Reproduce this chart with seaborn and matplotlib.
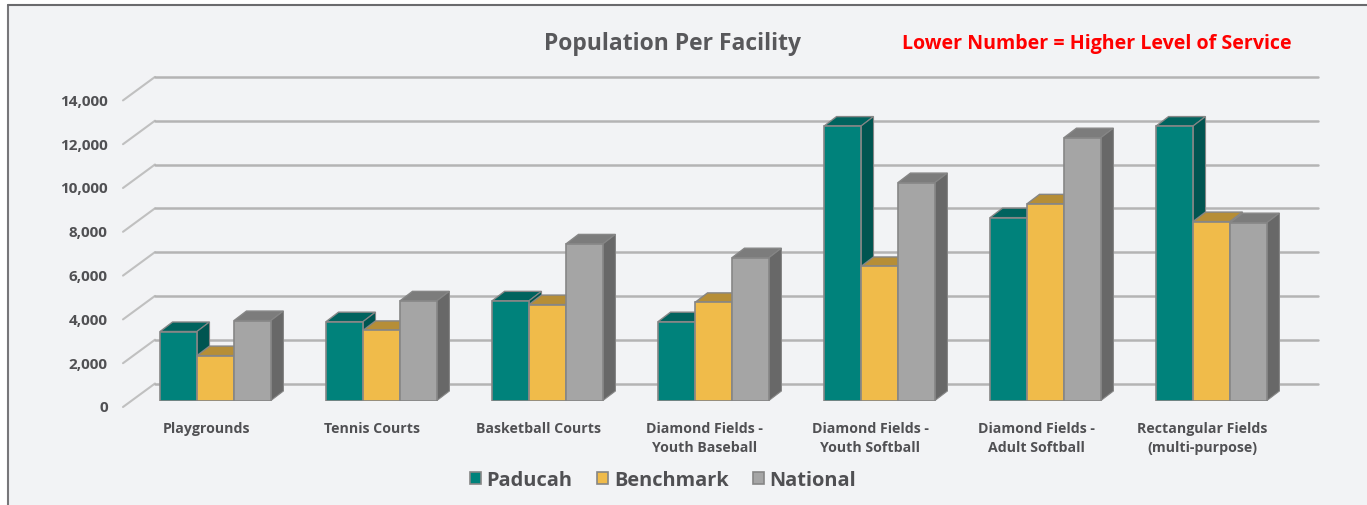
import matplotlib
matplotlib.use("Agg")
import matplotlib.pyplot as plt
from matplotlib.patches import Polygon, Rectangle
from matplotlib.lines import Line2D
from matplotlib.transforms import Affine2D
import pandas as pd
import seaborn as sns

categories = ["Playgrounds", "Tennis Courts", "Basketball Courts",
              "Diamond Fields -\nYouth Baseball", "Diamond Fields -\nYouth Softball",
              "Diamond Fields -\nAdult Softball", "Rectangular Fields\n(multi-purpose)"]
paducah = [3150, 3600, 4550, 3600, 12530, 8350, 12530]
benchmark = [2050, 3200, 4380, 4480, 6120, 8980, 8170]
national = [3650, 4550, 7150, 6520, 9950, 12000, 8120]
series_names = ["Paducah", "Benchmark", "National"]
y_ticks = [0, 2000, 4000, 6000, 8000, 10000, 12000, 14000]

front_colors = ["#00827B", "#F0BB4A", "#A5A5A5"]
top_colors = ["#00635E", "#B68E37", "#7C7C7C"]
side_colors = ["#005551", "#8F7030", "#686868"]
BG = "#F2F3F5"
TXT = "#505053"
FONT = "Open Sans"

W, H = 1367, 506
sns.set_theme(style="white")
plt.rcParams["font.family"] = [FONT, "DejaVu Sans"]
fig = plt.figure(figsize=(W / 100, H / 100), dpi=100, facecolor="white")

# panel
fig.add_artist(Rectangle((8 / W, 0), 1.0, 1 - 6 / H, transform=fig.transFigure,
                         facecolor=BG, edgecolor="none", zorder=-5))
fig.add_artist(Line2D([8 / W, 8 / W], [0, 1 - 6 / H], color="#77777A", lw=1.5, transform=fig.transFigure))
fig.add_artist(Line2D([8 / W, 1], [1 - 6 / H, 1 - 6 / H], color="#6A6A6D", lw=1.5, transform=fig.transFigure))

# axes: plane of the bar fronts
GROUP = 166.0
LEFT = 215.5 - GROUP / 2
BOTTOM = 401.5
PX_2000 = 43.8
AX_H = 7 * PX_2000
ax = fig.add_axes([LEFT / W, (H - BOTTOM) / H, 7 * GROUP / W, AX_H / H])
ax.patch.set_alpha(0)

df = pd.DataFrame({
    "category": categories * 3,
    "series": sum([[n] * len(categories) for n in series_names], []),
    "value": paducah + benchmark + national,
})
sns.barplot(data=df, x="category", y="value", hue="series", order=categories,
            hue_order=series_names, palette=front_colors, width=0.668, gap=0,
            saturation=1, errorbar=None, ax=ax, edgecolor="#868686", linewidth=1.2)

ax.set_xlim(-0.5, 6.5)
ax.set_ylim(0, 14000)
ax.set_xlabel("")
ax.set_ylabel("")
sns.despine(ax=ax, left=True, bottom=True)
ax.set_yticks(y_ticks)
ax.set_yticklabels([f"{v:,}" for v in y_ticks], fontsize=11, fontweight="bold", color=TXT)
ax.tick_params(axis="both", length=0)

# px -> data
ux = 1 / GROUP
uy = 2000 / PX_2000

# walls and gridlines
grid_c = "#B4B4B4"
for v in y_ticks:
    ax.plot([(123 - LEFT) * ux - 0.5, (155 - LEFT) * ux - 0.5],
            [v + (BOTTOM - 408) * uy, v + (BOTTOM - 384.5) * uy],
            color="#C0C0C0", lw=1.5, clip_on=False, zorder=0.5)
    ax.plot([(155 - LEFT) * ux - 0.5, (1318 - LEFT) * ux - 0.5],
            [v + (BOTTOM - 384.5) * uy] * 2, color=grid_c, lw=1.8, clip_on=False, zorder=0.5)

# 3D faces derived from the bars that seaborn drew
dx, dy = 12.5 * ux, 9.5 * uy
for s, cont in enumerate(ax.containers):
    for i, r in enumerate(cont.patches):
        x0, w, h = r.get_x(), r.get_width(), r.get_height()
        base = i * 10 + s * 3 + 2
        r.set_zorder(base + 2)
        top = Polygon([(x0, h), (x0 + dx, h + dy), (x0 + w + dx, h + dy), (x0 + w, h)],
                      closed=True, facecolor=top_colors[s], edgecolor="#868686", lw=1.0,
                      clip_on=False, zorder=base)
        side = Polygon([(x0 + w, 0), (x0 + w + dx, dy), (x0 + w + dx, h + dy), (x0 + w, h)],
                       closed=True, facecolor=side_colors[s], edgecolor="#868686", lw=0.8,
                       clip_on=False, zorder=base + 1)
        ax.add_patch(side)
        ax.add_patch(top)

# tick labels
ax.set_xticks(range(len(categories)))
ax.set_xticklabels(categories, fontsize=10.2, fontweight="bold", color=TXT, linespacing=1.38)
for lab in ax.get_xticklabels():
    lab.set_transform(lab.get_transform() + Affine2D().translate(-9, -16))
for lab in ax.get_yticklabels():
    lab.set_transform(lab.get_transform() + Affine2D().translate(-20, -5.5))

# legend
sns.move_legend(ax, "center", bbox_to_anchor=((663 - LEFT) / (7 * GROUP), (BOTTOM - 481.5) / AX_H),
                ncols=3, frameon=False, title=None, handlelength=0.55,
                handleheight=0.55, handletextpad=0.3, columnspacing=1.2,
                prop={"weight": "bold", "size": 14.4, "family": FONT})
for t in ax.get_legend().get_texts():
    t.set_color(TXT)
ax.get_legend().set_zorder(200)

fig.text(673 / W, 1 - 43.5 / H, "Population Per Facility", ha="center", va="center",
         fontsize=16.5, fontweight="bold", color="#58585B")
fig.text(1096.5 / W, 1 - 44.5 / H, "Lower Number = Higher Level of Service", ha="center", va="center",
         fontsize=14.1, fontweight="bold", color="#FF0000")

fig.savefig("out.png", dpi=100, facecolor="white")
